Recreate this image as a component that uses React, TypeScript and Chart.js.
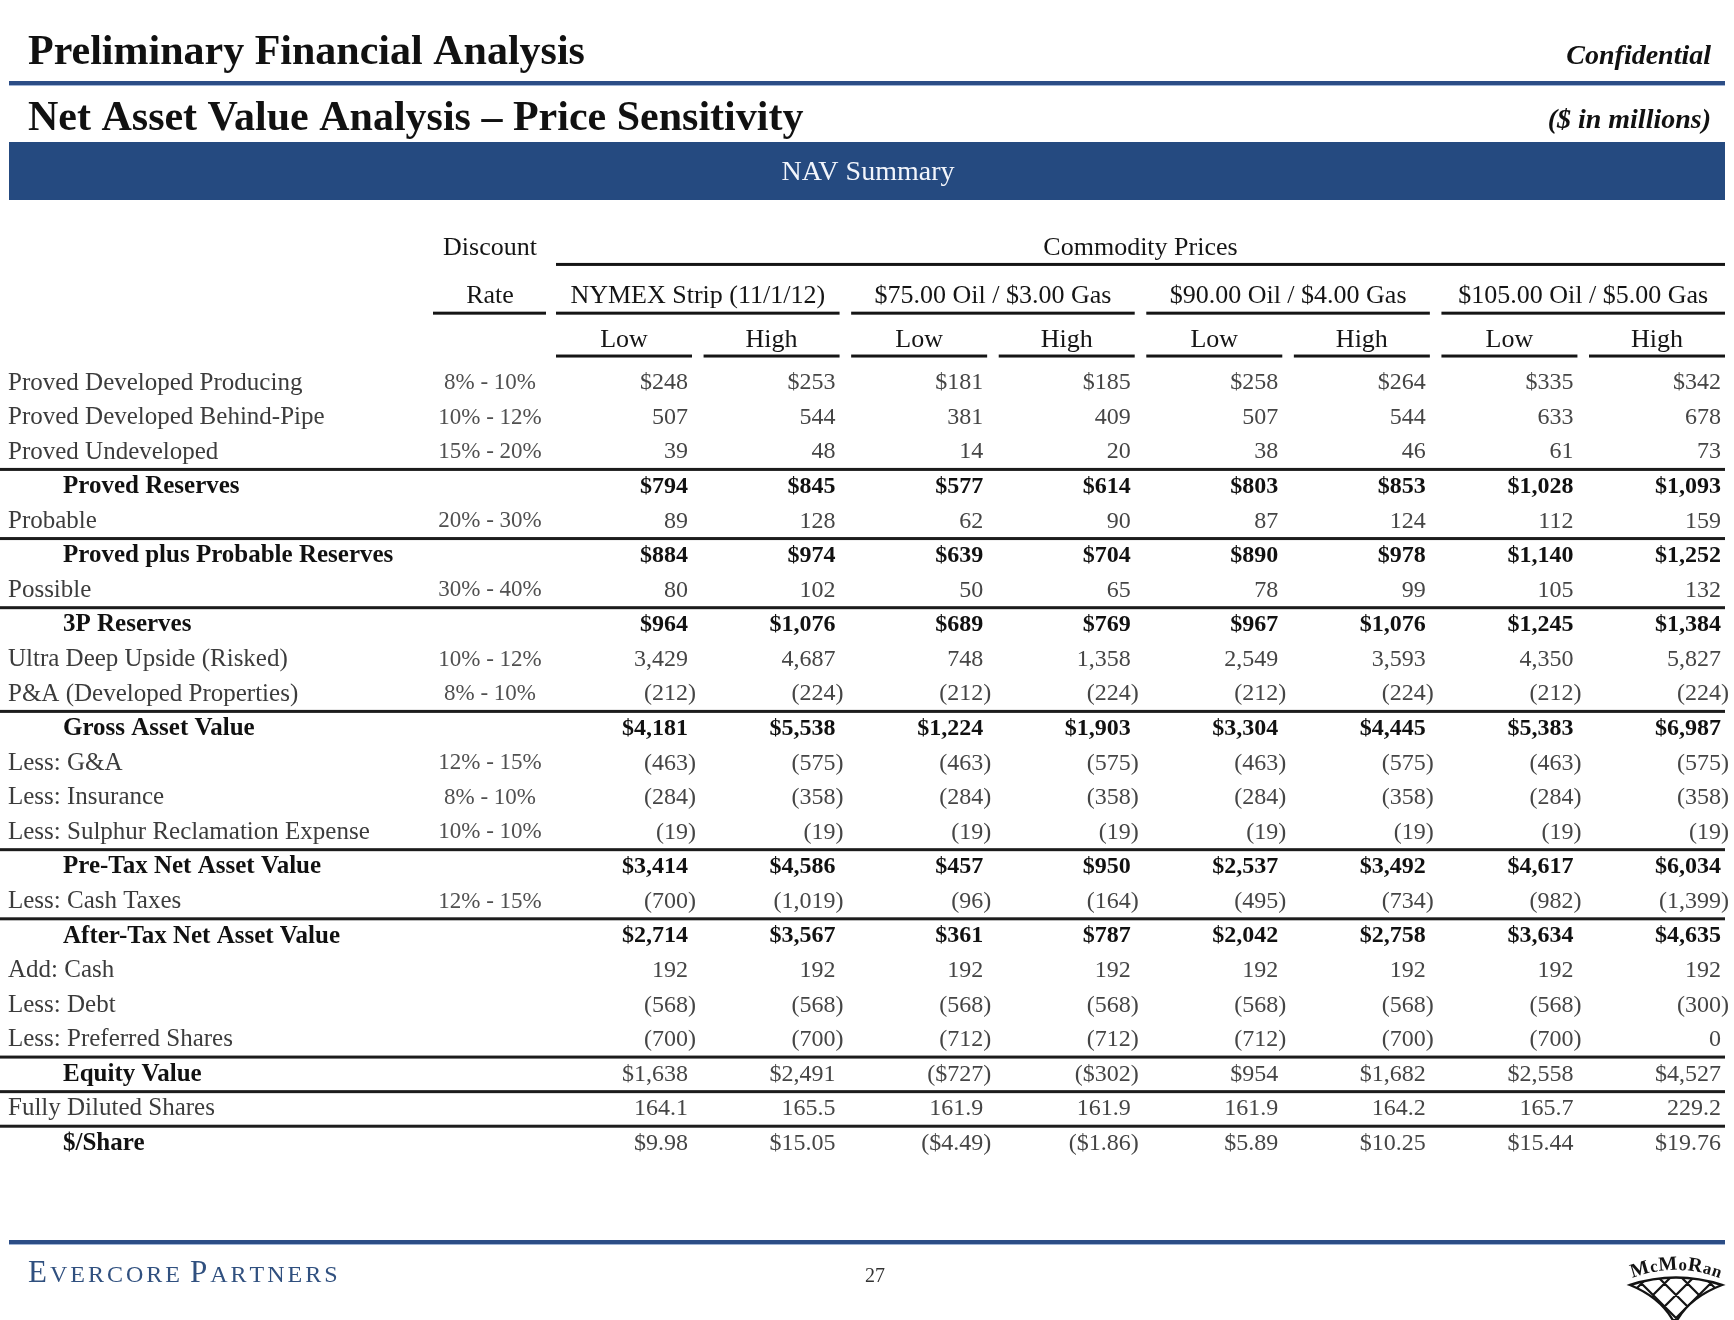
import React, { useEffect, useRef } from "react";
import { Chart, registerables } from "chart.js";

Chart.register(...registerables);

// ---------------- Data ----------------
const scenarioNames = [
  "NYMEX Strip (11/1/12)",
  "$75.00 Oil / $3.00 Gas",
  "$90.00 Oil / $4.00 Gas",
  "$105.00 Oil / $5.00 Gas",
];
const caseNames = ["Low", "High"];

const rowLabels = [
  "Proved Developed Producing",
  "Proved Developed Behind-Pipe",
  "Proved Undeveloped",
  "Proved Reserves",
  "Probable",
  "Proved plus Probable Reserves",
  "Possible",
  "3P Reserves",
  "Ultra Deep Upside (Risked)",
  "P&A (Developed Properties)",
  "Gross Asset Value",
  "Less: G&A",
  "Less: Insurance",
  "Less: Sulphur Reclamation Expense",
  "Pre-Tax Net Asset Value",
  "Less: Cash Taxes",
  "After-Tax Net Asset Value",
  "Add: Cash",
  "Less: Debt",
  "Less: Preferred Shares",
  "Equity Value",
  "Fully Diluted Shares",
  "$/Share",
];

const discountRates = [
  "8% - 10%", "10% - 12%", "15% - 20%", "", "20% - 30%", "", "30% - 40%", "",
  "10% - 12%", "8% - 10%", "", "12% - 15%", "8% - 10%", "10% - 10%", "",
  "12% - 15%", "", "", "", "", "", "", "",
];

const provedDevelopedProducing = [248, 253, 181, 185, 258, 264, 335, 342];
const provedDevelopedBehindPipe = [507, 544, 381, 409, 507, 544, 633, 678];
const provedUndeveloped = [39, 48, 14, 20, 38, 46, 61, 73];
const provedReserves = [794, 845, 577, 614, 803, 853, 1028, 1093];
const probable = [89, 128, 62, 90, 87, 124, 112, 159];
const provedPlusProbable = [884, 974, 639, 704, 890, 978, 1140, 1252];
const possible = [80, 102, 50, 65, 78, 99, 105, 132];
const threePReserves = [964, 1076, 689, 769, 967, 1076, 1245, 1384];
const ultraDeepUpside = [3429, 4687, 748, 1358, 2549, 3593, 4350, 5827];
const plugAndAbandon = [-212, -224, -212, -224, -212, -224, -212, -224];
const grossAssetValue = [4181, 5538, 1224, 1903, 3304, 4445, 5383, 6987];
const lessGA = [-463, -575, -463, -575, -463, -575, -463, -575];
const lessInsurance = [-284, -358, -284, -358, -284, -358, -284, -358];
const lessSulphur = [-19, -19, -19, -19, -19, -19, -19, -19];
const preTaxNAV = [3414, 4586, 457, 950, 2537, 3492, 4617, 6034];
const lessCashTaxes = [-700, -1019, -96, -164, -495, -734, -982, -1399];
const afterTaxNAV = [2714, 3567, 361, 787, 2042, 2758, 3634, 4635];
const addCash = [192, 192, 192, 192, 192, 192, 192, 192];
const lessDebt = [-568, -568, -568, -568, -568, -568, -568, -300];
const lessPreferred = [-700, -700, -712, -712, -712, -700, -700, 0];
const equityValue = [1638, 2491, -727, -302, 954, 1682, 2558, 4527];
const fullyDilutedShares = [164.1, 165.5, 161.9, 161.9, 161.9, 164.2, 165.7, 229.2];
const perShare = [9.98, 15.05, -4.49, -1.86, 5.89, 10.25, 15.44, 19.76];

const tableRows = [
  provedDevelopedProducing, provedDevelopedBehindPipe, provedUndeveloped, provedReserves,
  probable, provedPlusProbable, possible, threePReserves, ultraDeepUpside, plugAndAbandon,
  grossAssetValue, lessGA, lessInsurance, lessSulphur, preTaxNAV, lessCashTaxes, afterTaxNAV,
  addCash, lessDebt, lessPreferred, equityValue, fullyDilutedShares, perShare,
];

// formatting / styling (row indices)
const dollarRows = [0, 3, 5, 7, 10, 14, 16, 20, 22];
const oneDecimalRows = [21];
const twoDecimalRows = [22];
const boldLabelRows = [3, 5, 7, 10, 14, 16, 20, 22];
const boldValueRows = [3, 5, 7, 10, 14, 16];
const separatorAfterRows = [2, 4, 6, 9, 13, 15, 19, 20, 21];

// ---------------- Helpers ----------------
const SERIF = '"Liberation Serif", "Times New Roman", serif';
const font = (size: number, weight = "normal", style = "normal") => `${style} ${weight} ${size}px ${SERIF}`;

function fmtValue(v: number, ri: number): string {
  if (v === 0) return "0";
  const dec = twoDecimalRows.includes(ri) ? 2 : oneDecimalRows.includes(ri) ? 1 : 0;
  let s = Math.abs(v).toLocaleString("en-US", { minimumFractionDigits: dec, maximumFractionDigits: dec });
  if (dollarRows.includes(ri)) s = "$" + s;
  return v < 0 ? `(${s})` : s;
}

function drawNumber(ctx: CanvasRenderingContext2D, txt: string, x: number, y: number) {
  if (txt.endsWith(")")) {
    ctx.textAlign = "right";
    ctx.fillText(txt.slice(0, -1), x, y);
    ctx.textAlign = "left";
    ctx.fillText(")", x, y);
  } else {
    ctx.textAlign = "right";
    ctx.fillText(txt, x, y);
  }
}

function drawSpaced(ctx: CanvasRenderingContext2D, parts: [string, number][], x: number, y: number, spacing: number) {
  let cx = x;
  for (const [str, size] of parts) {
    ctx.font = font(size);
    for (const ch of str) {
      ctx.fillText(ch, cx, y);
      cx += ctx.measureText(ch).width + spacing;
    }
  }
}

function drawLogo(ctx: CanvasRenderingContext2D) {
  const cx = 1676;
  ctx.save();
  ctx.fillStyle = "#141414";
  ctx.strokeStyle = "#141414";
  // arched word mark
  const text = "McMoRan";
  const r = 120;
  const ccy = 1270 + r;
  ctx.textAlign = "center";
  ctx.textBaseline = "alphabetic";
  const sizes = Array.from(text).map((ch) => (ch === "M" || ch === "R" ? 20 : 17));
  const widths = Array.from(text).map((ch, i) => {
    ctx.font = font(sizes[i], "bold");
    return ctx.measureText(ch).width + 0.5;
  });
  const total = widths.reduce((a, b) => a + b, 0);
  let s = -total / 2;
  Array.from(text).forEach((ch, i) => {
    const a = (s + widths[i] / 2) / r;
    ctx.save();
    ctx.font = font(sizes[i], "bold");
    ctx.translate(cx + r * Math.sin(a), ccy - r * Math.cos(a));
    ctx.rotate(a);
    ctx.fillText(ch, 0, 0);
    ctx.restore();
    s += widths[i];
  });
  // net
  const L = { x: 1630, y: 1285 };
  const R = { x: 1722, y: 1285 };
  const B = { x: 1675, y: 1324 };
  ctx.beginPath();
  ctx.moveTo(L.x, L.y);
  ctx.quadraticCurveTo(cx, 1270, R.x, R.y);
  ctx.quadraticCurveTo(1688, 1298, B.x, B.y);
  ctx.quadraticCurveTo(1662, 1298, L.x, L.y);
  ctx.closePath();
  ctx.lineWidth = 2.4;
  ctx.stroke();
  ctx.clip();
  ctx.lineWidth = 2.2;
  ctx.beginPath();
  for (let k = -4; k <= 4; k++) {
    const x0 = cx + k * 23;
    ctx.moveTo(x0, 1272);
    ctx.lineTo(x0 + 60, 1332);
    ctx.moveTo(x0, 1272);
    ctx.lineTo(x0 - 60, 1332);
  }
  ctx.stroke();
  ctx.restore();
}

// ---------------- Plugin that renders the table from scales ----------------
const navTablePlugin = {
  id: "navTable",
  beforeDraw(chart: any) {
    const ctx: CanvasRenderingContext2D = chart.ctx;
    const W = chart.width;
    ctx.save();
    ctx.fillStyle = "#ffffff";
    ctx.fillRect(0, 0, W, chart.height);

    // titles
    ctx.fillStyle = "#111111";
    ctx.textBaseline = "alphabetic";
    ctx.textAlign = "left";
    ctx.font = font(42, "bold");
    ctx.fillText("Preliminary Financial Analysis", 28, 64);
    ctx.fillText("Net Asset Value Analysis \u2013 Price Sensitivity", 28, 130);
    ctx.textAlign = "right";
    ctx.font = font(28, "bold", "italic");
    ctx.fillText("Confidential", 1711, 64);
    ctx.fillText("($ in millions)", 1711, 128);

    // top rule
    ctx.fillStyle = "#2c4d86";
    ctx.fillRect(9, 81, 1716, 4);
    ctx.fillStyle = "#9fb3d4";
    ctx.fillRect(9, 85, 1716, 1);

    // banner
    ctx.fillStyle = "#254a80";
    ctx.fillRect(9, 142, 1716, 58);
    ctx.fillStyle = "#f2f5fb";
    ctx.textAlign = "center";
    ctx.font = font(28);
    ctx.fillText("NAV Summary", 868, 180);

    // footer
    ctx.fillStyle = "#2c4d86";
    ctx.fillRect(9, 1240, 1716, 4);
    ctx.fillStyle = "#9fb3d4";
    ctx.fillRect(9, 1244, 1716, 1);
    ctx.fillStyle = "#30507f";
    ctx.textAlign = "left";
    drawSpaced(ctx, [["E", 31], ["VERCORE", 24]], 28, 1282, 3);
    drawSpaced(ctx, [["P", 31], ["ARTNERS", 24]], 190, 1282, 3);
    ctx.fillStyle = "#333";
    ctx.textAlign = "center";
    ctx.font = font(20);
    ctx.fillText("27", 875, 1282);
    drawLogo(ctx);
    ctx.restore();
  },
  afterDraw(chart: any) {
    const ctx: CanvasRenderingContext2D = chart.ctx;
    const xs = chart.scales.x;
    const ys = chart.scales.y;
    const px = (i: number) => xs.getPixelForValue(i);
    const py = (v: number) => ys.getPixelForValue(v);
    const lineLeft = 0;
    const lineRight = 1725;
    ctx.save();
    ctx.textBaseline = "middle";

    // ---- column headers ----
    ctx.fillStyle = "#151515";
    ctx.font = font(26);
    ctx.textAlign = "center";
    const rateCenter = 490;
    ctx.fillText("Discount", rateCenter, py(-3.91));
    ctx.fillText("Rate", rateCenter, py(-2.5));
    ctx.fillRect(433, py(-2.02) - 1.5, 113, 3);

    const colL = (c: number) => px(c) - 132;
    const colR = (c: number) => px(c) + 4;
    ctx.fillText("Commodity Prices", (colL(0) + lineRight) / 2, py(-3.91));
    ctx.fillRect(colL(0), py(-3.43) - 1.5, lineRight - colL(0), 3);

    scenarioNames.forEach((name, si) => {
      const c0 = si * 2;
      const c1 = si * 2 + 1;
      const left = colL(c0);
      const right = si === scenarioNames.length - 1 ? lineRight : colR(c1);
      ctx.fillText(name, (left + right) / 2, py(-2.5));
      ctx.fillRect(left, py(-2.02) - 1.5, right - left, 3);
      caseNames.forEach((cn, ci) => {
        const c = c0 + ci;
        const l = colL(c);
        const r = c === 7 ? lineRight : colR(c);
        ctx.fillText(cn, (l + r) / 2, py(-1.23));
        ctx.fillRect(l, py(-0.78) - 1.5, r - l, 3);
      });
    });

    // ---- row labels and discount rates ----
    rowLabels.forEach((label, ri) => {
      const y = py(ri);
      const bold = boldLabelRows.includes(ri);
      ctx.textAlign = "left";
      ctx.font = font(25, bold ? "bold" : "normal");
      ctx.fillStyle = bold ? "#111111" : "#3c3c3c";
      ctx.fillText(label, bold ? 63 : 8, y);
      const rate = discountRates[ri];
      if (rate) {
        ctx.textAlign = "center";
        ctx.font = font(23);
        ctx.fillStyle = "#505050";
        ctx.fillText(rate, rateCenter, y);
      }
    });

    // ---- values from dataset elements ----
    chart.data.datasets.forEach((ds: any, di: number) => {
      const meta = chart.getDatasetMeta(di);
      meta.data.forEach((el: any, ri: number) => {
        const raw = ds.data[ri];
        const bold = boldValueRows.includes(ri);
        ctx.font = font(24, bold ? "bold" : "normal");
        ctx.fillStyle = bold ? "#111111" : "#454545";
        drawNumber(ctx, fmtValue(raw.v, ri), el.x, el.y);
      });
    });

    // ---- separator rules ----
    ctx.fillStyle = "#1c1c1c";
    separatorAfterRows.forEach((ri) => {
      const y = py(ri + 0.5);
      ctx.fillRect(lineLeft, y - 1.5, lineRight - lineLeft, 3);
    });
    ctx.restore();
  },
};

export default function App() {
  const ref = useRef<HTMLCanvasElement>(null);
  useEffect(() => {
    const canvas = ref.current;
    if (!canvas) return;
    const datasets = scenarioNames.flatMap((s, si) =>
      caseNames.map((c, ci) => {
        const col = si * 2 + ci;
        return {
          label: `${s} ${c}`,
          data: tableRows.map((row, ri) => ({ x: col, y: ri, v: row[col] })),
          pointRadius: 0,
          pointHoverRadius: 0,
          showLine: false,
        };
      })
    );
    const chart = new Chart(canvas, {
      type: "scatter",
      data: { datasets } as any,
      options: {
        responsive: false,
        animation: false,
        devicePixelRatio: 1,
        events: [],
        layout: { padding: { left: 688, right: 13, top: 383, bottom: 176.5 } },
        scales: {
          x: { type: "linear", min: 0, max: 7, display: false },
          y: { type: "linear", min: 0, max: 22, reverse: true, display: false },
        },
        plugins: { legend: { display: false }, tooltip: { enabled: false } },
      },
      plugins: [navTablePlugin],
    });
    return () => chart.destroy();
  }, []);
  return (
    <div style={{ position: "absolute", left: 0, top: 0, width: 1734, height: 1320, background: "#fff" }}>
      <canvas ref={ref} width={1734} height={1320} style={{ display: "block", width: 1734, height: 1320 }} />
    </div>
  );
}
